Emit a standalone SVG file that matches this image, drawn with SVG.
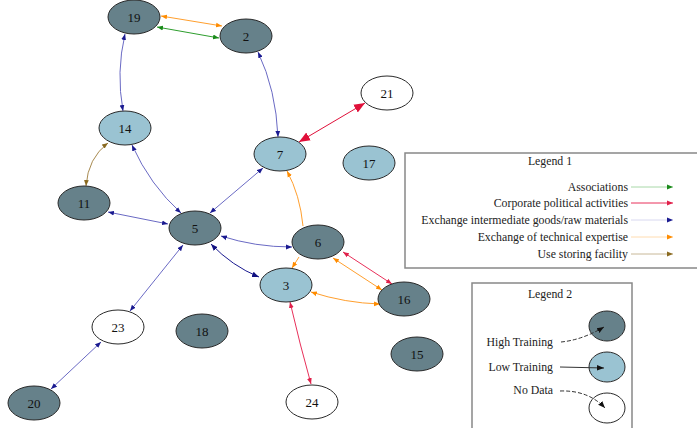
<svg xmlns="http://www.w3.org/2000/svg" width="697" height="429" viewBox="0 0 697 429">
<style>
.nd ellipse{stroke:#2a2a2a;stroke-width:1}
.hi{fill:#66818a}
.lo{fill:#9ac3d2}
.no{fill:#ffffff}
.nd text{font-family:"Liberation Serif",serif;font-size:13px;fill:#111;text-anchor:middle;dominant-baseline:central}
.e{fill:none;stroke-width:1}
.bl{stroke:#6a6ac4;marker-start:url(#mb);marker-end:url(#mb)}
.or{stroke:#ff9f2e;marker-start:url(#mo);marker-end:url(#mo)}
.gr{stroke:#2e9e2e;marker-start:url(#mg);marker-end:url(#mg)}
.rd{stroke:#e8305a;marker-start:url(#mr);marker-end:url(#mr)}
.br{stroke:#a88a50;marker-start:url(#mbr);marker-end:url(#mbr)}
.lg text{font-family:"Liberation Serif",serif;font-size:11.8px;fill:#222}
.box{fill:none;stroke:#888;stroke-width:1.5}
</style>
<defs>
<marker id="mb" viewBox="0 0 10 10" refX="10" refY="5" markerWidth="6" markerHeight="6" markerUnits="userSpaceOnUse" orient="auto-start-reverse"><path d="M0,1 L10,5 L0,9 z" fill="#1a1a90"/></marker>
<marker id="mo" viewBox="0 0 10 10" refX="10" refY="5" markerWidth="6" markerHeight="6" markerUnits="userSpaceOnUse" orient="auto-start-reverse"><path d="M0,1 L10,5 L0,9 z" fill="#ff8c00"/></marker>
<marker id="mg" viewBox="0 0 10 10" refX="10" refY="5" markerWidth="6" markerHeight="6" markerUnits="userSpaceOnUse" orient="auto-start-reverse"><path d="M0,1 L10,5 L0,9 z" fill="#1a8a1a"/></marker>
<marker id="mr" viewBox="0 0 10 10" refX="10" refY="5" markerWidth="6" markerHeight="6" markerUnits="userSpaceOnUse" orient="auto-start-reverse"><path d="M0,1 L10,5 L0,9 z" fill="#e0204a"/></marker>
<marker id="mbr" viewBox="0 0 10 10" refX="10" refY="5" markerWidth="6" markerHeight="6" markerUnits="userSpaceOnUse" orient="auto-start-reverse"><path d="M0,1 L10,5 L0,9 z" fill="#8a6a20"/></marker>
<marker id="mrt" viewBox="0 0 10 10" refX="10" refY="5" markerWidth="11" markerHeight="11" markerUnits="userSpaceOnUse" orient="auto-start-reverse"><path d="M0,1 L10,5 L0,9 z" fill="#e0103a"/></marker>
<marker id="mbt" viewBox="0 0 10 10" refX="10" refY="5" markerWidth="7" markerHeight="7" markerUnits="userSpaceOnUse" orient="auto-start-reverse"><path d="M0,1 L10,5 L0,9 z" fill="#101080"/></marker>
<marker id="mk" viewBox="0 0 10 10" refX="10" refY="5" markerWidth="7" markerHeight="7" markerUnits="userSpaceOnUse" orient="auto"><path d="M0,1 L10,5 L0,9 z" fill="#111"/></marker>
</defs>
<rect width="697" height="429" fill="#fff"/>
<g id="connectors">
<path class="e or" d="M161,16 L222,26"/>
<path class="e gr" d="M157,27 L219,38"/>
<path class="e bl" d="M125,34 Q116,72 123,111"/>
<path class="e bl" d="M258,52 Q276,90 278,137"/>
<path class="e" d="M365,103 L299,142" stroke="#e0103a" stroke-width="3" marker-start="url(#mrt)" marker-end="url(#mrt)"/>
<path class="e br" d="M108,143 Q88,158 86,186"/>
<path class="e bl" d="M132,145 Q150,185 181,213"/>
<path class="e bl" d="M263,168 L210,213"/>
<path class="e bl" d="M108,212 L168,224"/>
<path class="e bl" d="M221,236 Q255,247 292,247"/>
<path class="e" d="M211,244 Q232,266 259,277" stroke="#1a1a90" stroke-width="2" marker-start="url(#mbt)" marker-end="url(#mbt)"/>
<path class="e bl" d="M183,245 L130,311"/>
<path class="e bl" d="M101,342 L51,389"/>
<path class="e" d="M303,226 Q300,195 287,171" stroke="#ff9f2e" stroke-width="1.5" marker-end="url(#mo)"/>
<path class="e" d="M299,257 L292,268" stroke="#ff9f2e" stroke-width="1.5" marker-end="url(#mo)"/>
<path class="e rd" d="M343,252 L392,284"/>
<path class="e or" d="M333,258 L382,290"/>
<path class="e or" d="M311,292 Q345,303 380,304"/>
<path class="e rd" d="M290,302 Q300,345 311,384"/>
</g>
<g id="n19" class="nd"><ellipse class="hi" cx="134" cy="17" rx="26" ry="17"/><text x="134" y="17">19</text></g>
<g id="n2" class="nd"><ellipse class="hi" cx="246" cy="36" rx="26" ry="17"/><text x="246" y="36">2</text></g>
<g id="n14" class="nd"><ellipse class="lo" cx="125" cy="128" rx="26" ry="17"/><text x="125" y="128">14</text></g>
<g id="n7" class="nd"><ellipse class="lo" cx="280" cy="154" rx="26" ry="17"/><text x="280" y="154">7</text></g>
<g id="n21" class="nd"><ellipse class="no" cx="387" cy="93" rx="26" ry="17"/><text x="387" y="93">21</text></g>
<g id="n17" class="nd"><ellipse class="lo" cx="369" cy="163" rx="26" ry="17"/><text x="369" y="163">17</text></g>
<g id="n11" class="nd"><ellipse class="hi" cx="84" cy="203" rx="26" ry="17"/><text x="84" y="203">11</text></g>
<g id="n5" class="nd"><ellipse class="hi" cx="195" cy="228" rx="26" ry="17"/><text x="195" y="228">5</text></g>
<g id="n6" class="nd"><ellipse class="hi" cx="318" cy="242" rx="26" ry="17"/><text x="318" y="242">6</text></g>
<g id="n3" class="nd"><ellipse class="lo" cx="286" cy="285" rx="26" ry="17"/><text x="286" y="285">3</text></g>
<g id="n16" class="nd"><ellipse class="hi" cx="404" cy="299" rx="26" ry="17"/><text x="404" y="299">16</text></g>
<g id="n15" class="nd"><ellipse class="hi" cx="417" cy="354" rx="26" ry="17"/><text x="417" y="354">15</text></g>
<g id="n23" class="nd"><ellipse class="no" cx="118" cy="327" rx="26" ry="17"/><text x="118" y="327">23</text></g>
<g id="n18" class="nd"><ellipse class="hi" cx="202" cy="331" rx="26" ry="17"/><text x="202" y="331">18</text></g>
<g id="n20" class="nd"><ellipse class="hi" cx="34" cy="403" rx="26" ry="17"/><text x="34" y="403">20</text></g>
<g id="n24" class="nd"><ellipse class="no" cx="312" cy="402" rx="26" ry="17"/><text x="312" y="402">24</text></g>
<g id="legend1" class="lg">
<path class="box" d="M697,153 L405,153 L405,268 L697,268"/>
<text x="550" y="165" text-anchor="middle" font-size="12.5">Legend 1</text>
<g text-anchor="end">
<text x="628" y="191">Associations</text>
<text x="628" y="207">Corporate political activities</text>
<text x="628" y="224">Exchange intermediate goods/raw materials</text>
<text x="628" y="241">Exchange of technical expertise</text>
<text x="628" y="258">Use storing facility</text>
</g>
<line x1="631" y1="187" x2="673" y2="187" stroke="#a8d8a8" marker-end="url(#mg)"/>
<line x1="631" y1="203" x2="673" y2="203" stroke="#e8305a" marker-end="url(#mr)"/>
<line x1="631" y1="220" x2="673" y2="220" stroke="#d8d8f0" marker-end="url(#mb)"/>
<line x1="631" y1="237" x2="673" y2="237" stroke="#ffdcb0" marker-end="url(#mo)"/>
<line x1="631" y1="254" x2="673" y2="254" stroke="#c8b898" marker-end="url(#mbr)"/>
</g>
<g id="legend2" class="lg">
<path class="box" d="M472,428 L472,283 L632,283 L632,428"/>
<text x="550" y="298" text-anchor="middle" font-size="12.5">Legend 2</text>
<g class="nd">
<ellipse class="hi" cx="607" cy="326" rx="18" ry="15"/>
<ellipse class="lo" cx="607" cy="367" rx="18" ry="15"/>
<ellipse class="no" cx="607" cy="408" rx="18" ry="15"/>
</g>
<text x="553" y="346" text-anchor="end">High Training</text>
<text x="553" y="371" text-anchor="end">Low Training</text>
<text x="553" y="394" text-anchor="end">No Data</text>
<path d="M561,342 Q582,340 604,327" fill="none" stroke="#333" stroke-dasharray="4 2" marker-end="url(#mk)"/>
<path d="M560,367 L604,368" fill="none" stroke="#333" marker-end="url(#mk)"/>
<path d="M560,391 Q588,390 605,408" fill="none" stroke="#333" stroke-dasharray="4 2" marker-end="url(#mk)"/>
</g>
</svg>
